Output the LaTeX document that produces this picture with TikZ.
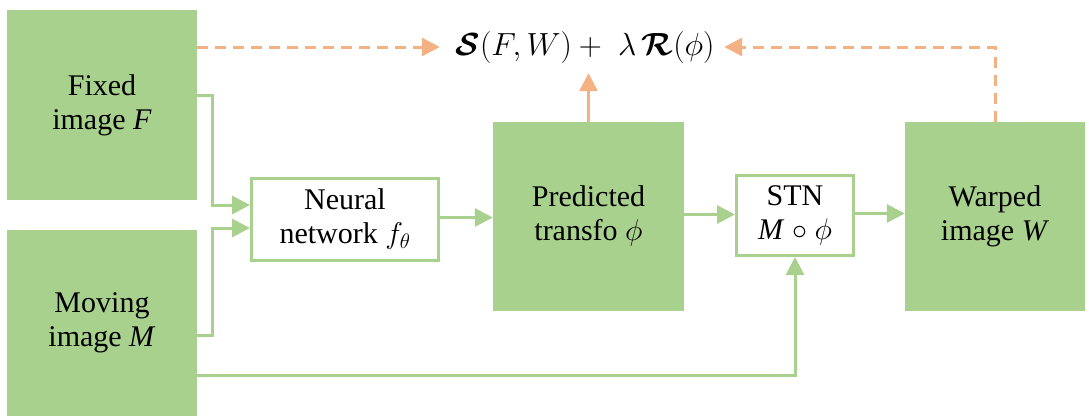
\RequirePackage{fix-cm}
\documentclass[tikz,border=0pt]{standalone}
\usepackage{amsmath,bm}
\usepackage{fontspec}
\setmainfont{Liberation Serif}
\usetikzlibrary{arrows.meta}
\definecolor{gfill}{HTML}{A9D18E}
\definecolor{ora}{HTML}{F4B183}
\begin{document}
\begin{tikzpicture}[x=1pt,y=-1pt,
  gbox/.style={fill=gfill,draw=none,inner sep=0pt,align=center,font=\fontsize{30}{34}\selectfont},
  wbox/.style={fill=white,draw=gfill,line width=3pt,inner sep=0pt,align=center,font=\fontsize{30}{34}\selectfont},
  arr/.style={draw=gfill,line width=3pt,-{Triangle[length=18pt,width=18pt]}},
  oarr/.style={draw=ora,line width=3pt,dash pattern=on 11pt off 7pt,-{Triangle[length=18pt,width=18pt]}}]
\useasboundingbox (0,0) rectangle (1089,416);
\node[gbox,minimum width=190pt,minimum height=190pt] (fixed) at (102,105) {Fixed\\image \textit{F}};
\node[gbox,minimum width=190pt,minimum height=186pt] (moving) at (102,323) {Moving\\image \textit{M}};
\node[wbox,minimum width=187pt,minimum height=82pt] (neural) at (345,219.5) {Neural\\network $f_\theta$};
\node[gbox,minimum width=191pt,minimum height=189pt] (pred) at (588.5,216.5) {Predicted\\transfo $\phi$};
\node[wbox,minimum width=117pt,minimum height=80pt] (stn) at (795,215.5) {STN\\\textit{M} $\circ$ $\phi$};
\node[gbox,minimum width=180pt,minimum height=189pt] (warped) at (995,216.5) {Warped\\image \textit{W}};
\node[font=\fontsize{32}{34}\selectfont,inner sep=0pt,minimum width=274pt] (loss) at (585,47) {$\bm{\mathcal{S}}(F,W)+\;\lambda\,\bm{\mathcal{R}}(\phi)$};
\coordinate (fx) at (212,0);
\draw[arr] ([yshift=10pt]fixed.east) -| ([yshift=14.5pt]fx |- neural.west) -- ([yshift=14.5pt]neural.west);
\draw[arr] ([yshift=-12pt]moving.east) -| ([yshift=-8.5pt]fx |- neural.west) -- ([yshift=-8.5pt]neural.west);
\draw[arr] ([yshift=2pt]neural.east) -- ([yshift=2pt]neural.east -| pred.west);
\draw[arr] ([yshift=2pt]pred.east) -- ([yshift=2pt]pred.east -| stn.west);
\draw[arr] ([yshift=2pt]stn.east) -- ([yshift=2pt]stn.east -| warped.west);
\draw[arr] ([yshift=-52pt]moving.east) -| (stn.south);
\draw[oarr] ([yshift=58pt]fixed.east) -- ([xshift=-8pt]loss.west |- 0,47);
\draw[oarr] (warped.north) |- ([xshift=2pt]loss.east |- 0,47);
\draw[oarr,dash pattern=] (pred.north) -- ([yshift=-10pt]pred.north |- loss.south);
\end{tikzpicture}
\end{document}
